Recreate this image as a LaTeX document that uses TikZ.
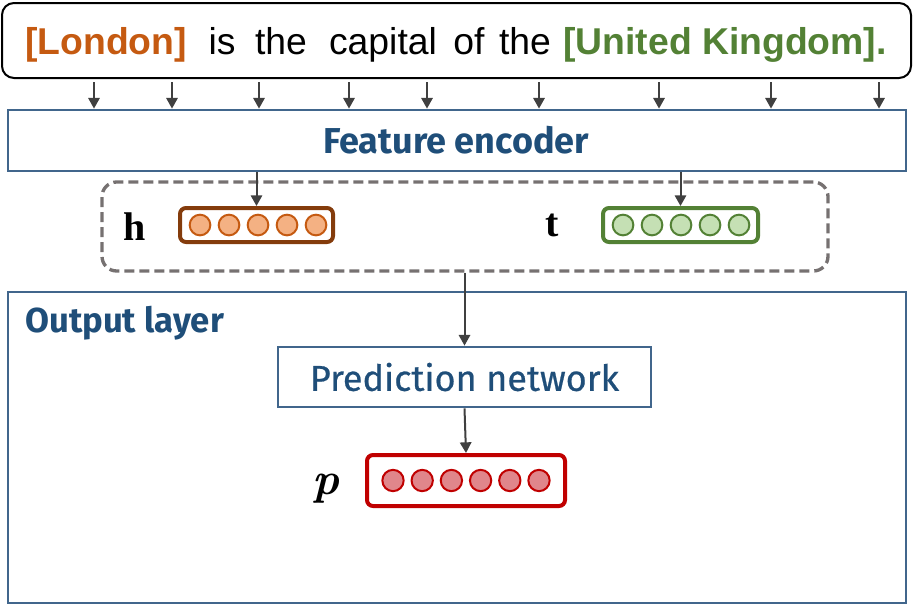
\documentclass[tikz,border=0pt]{standalone}
\usepackage{fontspec}
\newfontfamily\wordfont{Liberation Sans}
\newfontfamily\labelfont{Fira Sans}
\newfontfamily\medfont[FakeBold=0.6]{Fira Sans}
\newfontfamily\symfont{Liberation Serif}
\usetikzlibrary{arrows.meta}

\definecolor{boxblue}{RGB}{65,102,140}
\definecolor{textblue}{RGB}{31,78,121}
\definecolor{headorange}{RGB}{197,90,17}
\definecolor{headbrown}{RGB}{132,60,12}
\definecolor{headfill}{RGB}{244,177,131}
\definecolor{tailgreen}{RGB}{83,129,53}
\definecolor{tailfill}{RGB}{197,224,180}
\definecolor{probred}{RGB}{192,0,0}
\definecolor{probfill}{RGB}{224,134,139}
\definecolor{dashgray}{RGB}{118,113,113}
\definecolor{arrowgray}{RGB}{64,64,64}

\tikzset{
  blockbox/.style={draw=boxblue,line width=2.1pt,inner sep=0pt},
  vecbox/.style={rounded corners=4.5pt,line width=3pt,inner sep=0pt},
  unit/.style={circle,inner sep=0pt,line width=1.5pt},
  feed/.style={->,draw=arrowgray,line width=1.5pt},
  word/.style={anchor=base,inner sep=0pt,font=\wordfont\fontsize{28}{30}\selectfont},
  symlabel/.style={inner sep=0pt,font=\symfont\bfseries\fontsize{30}{32}\selectfont}
}

\begin{document}
\begin{tikzpicture}[x=0.75pt,y=-0.75pt,>={Triangle[length=8pt,width=8.5pt]}]
\useasboundingbox (0,0) rectangle (913,604);

%sentence box and its words
\node[draw=black,line width=1.5pt,rounded corners=9pt,minimum width=681.75pt,minimum height=56.25pt] (sent) at (456.5,40.5) {};
\node[word,text=headorange] (w1) at (106,54) {\bfseries [London]};
\node[word] (w2) at (222,54) {is};
\node[word] (w3) at (281,54) {the};
\node[word] (w4) at (383,54) {capital};
\node[word] (w5) at (469,54) {of};
\node[word] (w6) at (525,54) {the};
\node[word,text=tailgreen] (w7) at (725,54) {\bfseries [United Kingdom].};

%feature encoder
\node[blockbox,minimum width=673.5pt,minimum height=45.75pt] (enc) at (457,140.5) {};
\node[text=textblue,font=\labelfont\bfseries\fontsize{27}{30}\selectfont] (enclabel) at (456,140) {Feature encoder};

%token arrows into the encoder
\foreach \x in {94,172,259,349,427,539,659,771,879}
	{
	\draw[feed] (\x,82) -- (\x,0 |- enc.north);
	}

%entity pair group
\node[draw=dashgray,line width=2.5pt,dash pattern=on 7.5pt off 3.75pt,rounded corners=11pt,minimum width=544.5pt,minimum height=66.75pt] (pair) at (465,226.5) {};
\node[symlabel] (hlabel) at (135,227) {h};
\node[symlabel] (tlabel) at (552,225) {t};

%head vector
\node[vecbox,draw=headbrown,minimum width=114.75pt,minimum height=25.5pt] (hvec) at (256.5,225) {};
\foreach \i in {1,...,5}
	{
	\node[unit,draw=headorange,fill=headfill,minimum size=15.5pt] (h\i) at (200+29*\i-29,225) {};
	}

%tail vector
\node[vecbox,draw=tailgreen,minimum width=116.25pt,minimum height=25.5pt] (tvec) at (680.5,225) {};
\foreach \i in {1,...,5}
	{
	\node[unit,draw=tailgreen,fill=tailfill,minimum size=15.5pt] (t\i) at (623+29*\i-29,225) {};
	}

\draw[feed] (enc.south -| hvec.north) -- (hvec.north);
\draw[feed] (enc.south -| tvec.north) -- (tvec.north);

%output layer
\node[blockbox,minimum width=673.5pt,minimum height=233.25pt] (out) at (457,447.5) {};
\node[anchor=west,inner sep=0pt,text=textblue,font=\labelfont\bfseries\fontsize{26}{28}\selectfont] (outlabel) at (25,323) {Output layer};

\node[blockbox,minimum width=279.75pt,minimum height=45pt,text=textblue,font=\medfont\fontsize{27}{30}\selectfont] (pred) at (464.5,377) {Prediction network};
\draw[feed] (pair.south -| pred.north) -- (pred.north);

%prediction vector
\node[inner sep=0pt,font=\bfseries\itshape\fontsize{34}{36}\selectfont] (plabel) at (326,489) {p};
\node[vecbox,draw=probred,minimum width=148.5pt,minimum height=38.25pt] (pvec) at (466,480.5) {};
\foreach \i in {1,...,6}
	{
	\node[unit,draw=probred,fill=probfill,minimum size=16pt] (p\i) at (393+29.2*\i-29.2,480.5) {};
	}
\draw[feed] (pred.south) -- (pvec.north);

\end{tikzpicture}
\end{document}
